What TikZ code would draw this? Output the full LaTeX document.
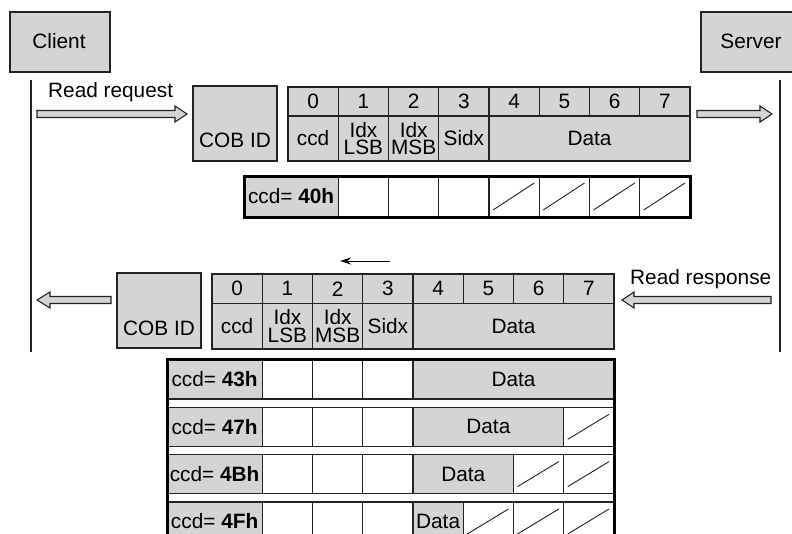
\documentclass[tikz,border=0pt]{standalone}
\usepackage{fontspec}
\setmainfont{Liberation Sans}
\usetikzlibrary{arrows.meta}
\definecolor{cellgray}{RGB}{212,212,214}
\definecolor{ink}{RGB}{35,35,35}
\tikzset{
  cg/.style={draw=ink, fill=cellgray, line width=1.1pt},
  cw/.style={draw=ink, fill=white, line width=1.1pt},
  txt/.style={inner sep=0pt, align=center, text=black},
  slashline/.style={draw=ink, line width=0.9pt},
  thickframe/.style={draw=black, line width=3pt},
  blk/.style={draw=ink, fill=cellgray, line width=1.1pt, line join=miter},
  lifeline/.style={draw=ink, line width=1.1pt},
}
\newcommand{\mycell}[7]{%
  \draw[#2] (#3,#4) rectangle (#5,#6);
  \node[txt] (#1) at ({(#3+#5)/2},{(#4+#6)/2}) {#7};}
\newcommand{\slashcell}[4]{%
  \draw[cw] (#1,#2) rectangle (#3,#4);
  \draw[slashline] ({#1+4},{#4-7}) -- ({#3-5},{#2+7});}
\newcommand{\blockarr}[4]{%
  \draw[blk] (#1,{#4-3.5}) -- (#2,{#4-3.5}) -- (#2,{#4-8}) -- (#3,#4) -- (#2,{#4+8}) -- (#2,{#4+3.5}) -- (#1,{#4+3.5}) -- cycle;}
\begin{document}
\begin{tikzpicture}[x=1pt,y=-1pt, font=\fontsize{20.8}{17.5}\selectfont]
\clip (0,0) rectangle (792,533);
\fill[white] (0,0) rectangle (792,533);

% Client / Server
\draw[cg] (10,12) rectangle (110,72);
\node[txt, anchor=base] (client) at (59,48) {Client};
\draw[cg] (701,12) rectangle (801,72);
\node[txt, anchor=base] (server) at (751,48) {Server};
\coordinate (cl1) at (31,80); \coordinate (cl2) at (31,352);
\coordinate (sl1) at (780,80); \coordinate (sl2) at (780,352);
\draw[lifeline] (cl1) -- (cl2);
\draw[lifeline] (sl1) -- (sl2);

% Read request
\node[txt, anchor=base west] (rreq) at (48,97) {Read request};
\blockarr{37}{175}{187}{114}
\blockarr{697}{760}{772}{114}

% COB ID 1
\draw[cg] (193,86) rectangle (277,161);
\node[txt, anchor=base] (cob1) at (235,147) {COB ID};

% Frame 1
\foreach \i in {0,...,7} {
  \pgfmathsetmacro\xa{288+50.25*\i}
  \pgfmathsetmacro\xb{288+50.25*(\i+1)}
  \mycell{fa\i}{cg}{\xa}{87}{\xb}{116}{\i}
}
\mycell{fb0}{cg}{288}{116}{338.25}{161}{ccd}
\mycell{fb1}{cg}{338.25}{116}{388.5}{161}{Idx\\LSB}
\mycell{fb2}{cg}{388.5}{116}{438.75}{161}{Idx\\MSB}
\mycell{fb3}{cg}{438.75}{116}{489}{161}{Sidx}
\mycell{fb4}{cg}{489}{116}{690}{161}{Data}

% ccd=40h row
\mycell{ra0}{cg}{244}{176}{338.25}{217}{ccd= \textbf{40h}}
\draw[cw] (338.25,176) rectangle (388.5,217);
\draw[cw] (388.5,176) rectangle (438.75,217);
\draw[cw] (438.75,176) rectangle (489,217);
\slashcell{489}{176}{539.25}{217}
\slashcell{539.25}{176}{589.5}{217}
\slashcell{589.5}{176}{639.75}{217}
\slashcell{639.75}{176}{690}{217}
\draw[thickframe] (244,176) rectangle (690,217);

% small arrow
\coordinate (sa1) at (390,261); \coordinate (sa2) at (340,261);
\draw[draw=black, line width=1pt, -{Stealth[length=11pt,width=7pt]}] (sa1) -- (sa2);

% Read response
\node[txt, anchor=base west] (rresp) at (630,284) {Read response};
\blockarr{771}{634}{622}{300}
\blockarr{111}{50}{37}{300}

% COB ID 2
\draw[cg] (117,273) rectangle (201,348);
\node[txt, anchor=base] (cob2) at (159,335) {COB ID};

% Frame 2
\foreach \i in {0,...,7} {
  \pgfmathsetmacro\xa{212+50.25*\i}
  \pgfmathsetmacro\xb{212+50.25*(\i+1)}
  \mycell{ga\i}{cg}{\xa}{274}{\xb}{303.5}{\i}
}
\mycell{gb0}{cg}{212}{303.5}{262.25}{349}{ccd}
\mycell{gb1}{cg}{262.25}{303.5}{312.5}{349}{Idx\\LSB}
\mycell{gb2}{cg}{312.5}{303.5}{362.75}{349}{Idx\\MSB}
\mycell{gb3}{cg}{362.75}{303.5}{413}{349}{Sidx}
\mycell{gb4}{cg}{413}{303.5}{614}{349}{Data}

% Response rows
\foreach \r/\lab/\top in {1/43h/360, 2/47h/407.3, 3/4Bh/454.6, 4/4Fh/502} {
  \pgfmathsetmacro\bot{\top+39}
  \mycell{rc\r}{cg}{167}{\top}{262.25}{\bot}{ccd= \textbf{\lab}}
  \draw[cw] (262.25,\top) rectangle (312.5,\bot);
  \draw[cw] (312.5,\top) rectangle (362.75,\bot);
  \draw[cw] (362.75,\top) rectangle (413,\bot);
}
\mycell{rd1}{cg}{413}{360}{614}{399}{Data}
\mycell{rd2}{cg}{413}{407.3}{563.75}{446.3}{Data}
\slashcell{563.75}{407.3}{614}{446.3}
\mycell{rd3}{cg}{413}{454.6}{513.5}{493.6}{Data}
\slashcell{513.5}{454.6}{563.75}{493.6}
\slashcell{563.75}{454.6}{614}{493.6}
\mycell{rd4}{cg}{413}{502}{463.25}{541}{Data}
\slashcell{463.25}{502}{513.5}{541}
\slashcell{513.5}{502}{563.75}{541}
\slashcell{563.75}{502}{614}{541}
\draw[thickframe] (167,545) -- (167,359) -- (614,359) -- (614,545);
\end{tikzpicture}
\end{document}
